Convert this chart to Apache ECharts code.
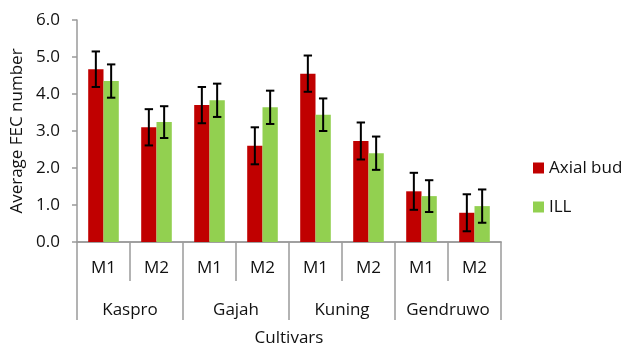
<!DOCTYPE html>
<html>
<head>
<meta charset="utf-8">
<script src="https://cdn.jsdelivr.net/npm/echarts@6/dist/echarts.min.js"></script>
<style>html,body{margin:0;padding:0;background:#fff;}#c{width:624px;height:344px;}</style>
</head>
<body>
<div id="c"></div>
<script>
const categories = ['M1','M2','M1','M2','M1','M2','M1','M2'];
const cultivars = ['Kaspro','Gajah','Kuning','Gendruwo'];
const axialBud = [4.67, 3.10, 3.70, 2.60, 4.55, 2.73, 1.37, 0.79];
const axialBudErr = [0.48, 0.49, 0.49, 0.50, 0.49, 0.50, 0.50, 0.50];
const ill = [4.35, 3.24, 3.83, 3.64, 3.44, 2.40, 1.24, 0.97];
const illErr = [0.45, 0.43, 0.45, 0.45, 0.44, 0.45, 0.43, 0.45];
const yTicks = [0,1,2,3,4,5,6];

const FONT = 'Open Sans';
const BW = 15.3;
const AX = '#9a9a9a';
const TXT = '#111';

function errSeries(vals, errs, side) {
  return {
    type: 'custom',
    xAxisIndex: 0,
    data: vals.map((v, i) => [i, v - errs[i], v + errs[i]]),
    encode: { x: 0, y: [1, 2] },
    z: 10,
    silent: true,
    renderItem: function (params, api) {
      const i = api.value(0);
      const lo = api.coord([i, api.value(1)]);
      const hi = api.coord([i, api.value(2)]);
      const x = lo[0] + side * BW / 2;
      const cw = 4.2;
      const st = { stroke: '#000', lineWidth: 2 };
      return {
        type: 'group',
        children: [
          { type: 'line', shape: { x1: x, y1: lo[1], x2: x, y2: hi[1] }, style: st },
          { type: 'line', shape: { x1: x - cw, y1: lo[1], x2: x + cw, y2: lo[1] }, style: st },
          { type: 'line', shape: { x1: x - cw, y1: hi[1], x2: x + cw, y2: hi[1] }, style: st }
        ]
      };
    }
  };
}

const chart = echarts.init(document.getElementById('c'), null, { renderer: 'canvas' });
chart.setOption({
  animation: false,
  backgroundColor: '#fff',
  textStyle: { fontFamily: FONT },
  grid: { left: 77, right: 123, top: 20, bottom: 102, containLabel: false, outerBoundsMode: 'none' },
  legend: {
    orient: 'vertical',
    left: 533,
    top: 159.5,
    padding: 0,
    itemWidth: 11,
    itemHeight: 11,
    itemGap: 22,
    icon: 'rect',
    data: ['Axial bud', 'ILL'],
    textStyle: { fontFamily: FONT, fontSize: 17, color: TXT, lineHeight: 16 }
  },
  xAxis: [
    {
      type: 'category',
      data: categories,
      position: 'bottom',
      axisLine: { show: true, lineStyle: { color: AX, width: 1.5 } },
      axisTick: { show: true, interval: 0, length: 39, lineStyle: { color: AX, width: 1.5 } },
      axisLabel: { interval: 0, margin: 18, fontFamily: FONT, fontSize: 17, color: TXT, lineHeight: 17 }
    },
    {
      type: 'category',
      data: cultivars,
      position: 'bottom',
      offset: 0,
      axisLine: { show: true, lineStyle: { color: AX, width: 1.5 } },
      axisTick: { show: true, interval: 0, length: 78, lineStyle: { color: AX, width: 1.5 } },
      axisLabel: { interval: 0, margin: 60, fontFamily: FONT, fontSize: 17, color: TXT, lineHeight: 17 },
      name: 'Cultivars',
      nameLocation: 'middle',
      nameGap: 88,
      nameTextStyle: { fontFamily: FONT, fontSize: 17, color: TXT }
    }
  ],
  yAxis: {
    type: 'value',
    min: 0,
    max: 6,
    interval: 1,
    name: 'Average FEC number',
    nameLocation: 'middle',
    nameGap: 50,
    nameTextStyle: { fontFamily: FONT, fontSize: 17, color: TXT },
    axisLine: { show: true, lineStyle: { color: AX, width: 1.5 } },
    axisTick: { show: true, length: 5, lineStyle: { color: AX, width: 1.5 } },
    splitLine: { show: false },
    axisLabel: {
      margin: 17,
      fontFamily: FONT, fontSize: 17, color: TXT,
      formatter: v => yTicks.includes(v) ? v.toFixed(1) : ''
    }
  },
  series: [
    { name: 'Axial bud', type: 'bar', xAxisIndex: 0, data: axialBud, barWidth: BW, barGap: '0%', itemStyle: { color: '#C00000' } },
    { name: 'ILL', type: 'bar', xAxisIndex: 0, data: ill, barWidth: BW, barGap: '0%', itemStyle: { color: '#92D050' } },
    errSeries(axialBud, axialBudErr, -1),
    errSeries(ill, illErr, 1)
  ]
});
</script>
</body>
</html>
